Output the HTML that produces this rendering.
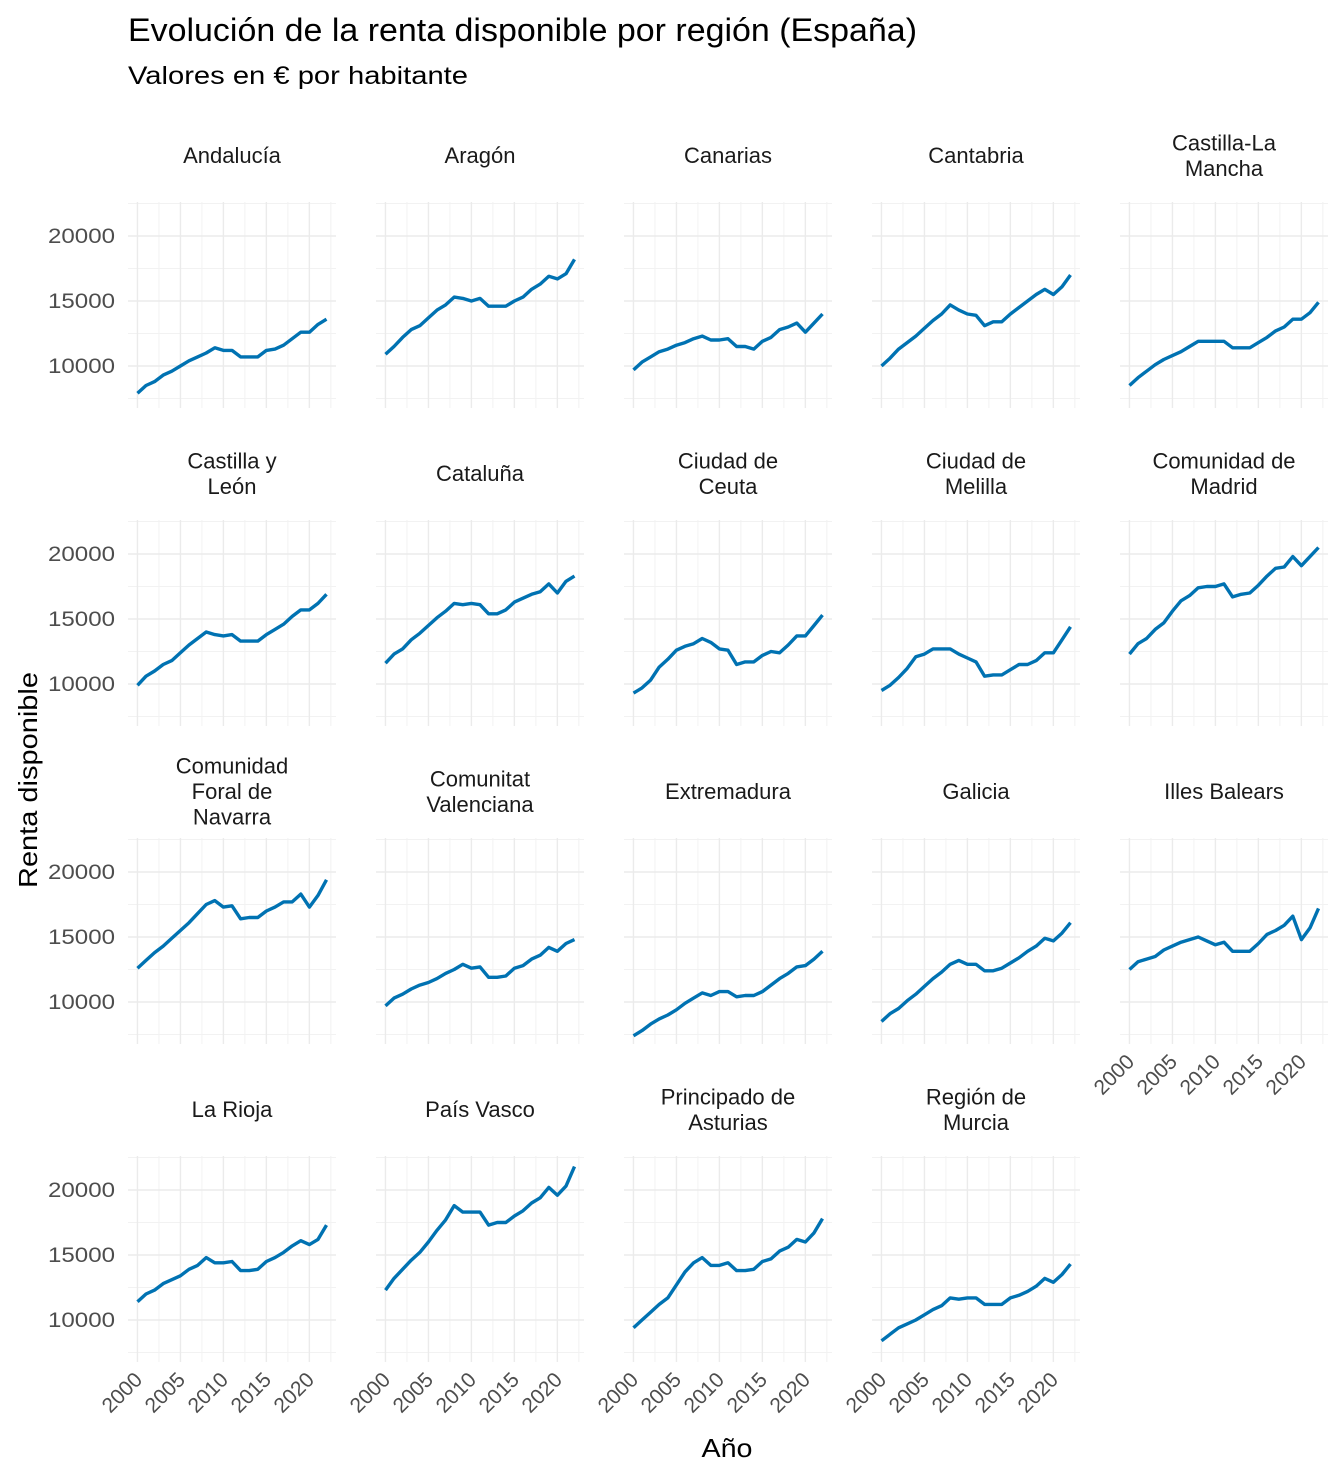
<!DOCTYPE html>
<html><head><meta charset="utf-8"><style>
body{margin:0;background:#fff;}
svg{display:block;font-family:"Liberation Sans",Arial,sans-serif;}
</style></head><body>
<svg id="chart" width="1344" height="1478" viewBox="0 0 1344 1478">
<text x="128" y="41" font-size="32" textLength="789" lengthAdjust="spacingAndGlyphs" fill="#000">Evolución de la renta disponible por región (España)</text>
<text x="128" y="84" font-size="25" textLength="340" lengthAdjust="spacingAndGlyphs" fill="#000">Valores en € por habitante</text>
<text transform="translate(37,780) rotate(-90)" text-anchor="middle" font-size="26" textLength="216" lengthAdjust="spacingAndGlyphs" fill="#000">Renta disponible</text>
<text x="727" y="1457" text-anchor="middle" font-size="26" textLength="51" lengthAdjust="spacingAndGlyphs" fill="#000">Año</text>
<g id="panels"></g>
</svg>
<script>
const years=[];for(let y=2000;y<=2022;y++)years.push(y);
const regions=[["Andalucía"],["Aragón"],["Canarias"],["Cantabria"],["Castilla-La","Mancha"],
["Castilla y","León"],["Cataluña"],["Ciudad de","Ceuta"],["Ciudad de","Melilla"],["Comunidad de","Madrid"],
["Comunidad","Foral de","Navarra"],["Comunitat","Valenciana"],["Extremadura"],["Galicia"],["Illes Balears"],
["La Rioja"],["País Vasco"],["Principado de","Asturias"],["Región de","Murcia"]];
const andalucia=[7900,8500,8800,9300,9600,10000,10400,10700,11000,11400,11200,11200,10700,10700,10700,11200,11300,11600,12100,12600,12600,13200,13600];
const aragon=[10900,11500,12200,12800,13100,13700,14300,14700,15300,15200,15000,15200,14600,14600,14600,15000,15300,15900,16300,16900,16700,17100,18200];
const canarias=[9700,10300,10700,11100,11300,11600,11800,12100,12300,12000,12000,12100,11500,11500,11300,11900,12200,12800,13000,13300,12600,13300,14000];
const cantabria=[10000,10600,11300,11800,12300,12900,13500,14000,14700,14300,14000,13900,13100,13400,13400,14000,14500,15000,15500,15900,15500,16100,17000];
const clm=[8500,9100,9600,10100,10500,10800,11100,11500,11900,11900,11900,11900,11400,11400,11400,11800,12200,12700,13000,13600,13600,14100,14900];
const cyl=[9900,10600,11000,11500,11800,12400,13000,13500,14000,13800,13700,13800,13300,13300,13300,13800,14200,14600,15200,15700,15700,16200,16900];
const cataluna=[11600,12300,12700,13400,13900,14500,15100,15600,16200,16100,16200,16100,15400,15400,15700,16300,16600,16900,17100,17700,17000,17900,18300];
const ceuta=[9300,9700,10300,11300,11900,12600,12900,13100,13500,13200,12700,12600,11500,11700,11700,12200,12500,12400,13000,13700,13700,14500,15300];
const melilla=[9500,9900,10500,11200,12100,12300,12700,12700,12700,12300,12000,11700,10600,10700,10700,11100,11500,11500,11800,12400,12400,13400,14400];
const madrid=[12300,13100,13500,14200,14700,15600,16400,16800,17400,17500,17500,17700,16700,16900,17000,17600,18300,18900,19000,19800,19100,19800,20500];
const navarra=[12600,13200,13800,14300,14900,15500,16100,16800,17500,17800,17300,17400,16400,16500,16500,17000,17300,17700,17700,18300,17300,18200,19400];
const valenciana=[9700,10300,10600,11000,11300,11500,11800,12200,12500,12900,12600,12700,11900,11900,12000,12600,12800,13300,13600,14200,13900,14500,14800];
const extremadura=[7400,7800,8300,8700,9000,9400,9900,10300,10700,10500,10800,10800,10400,10500,10500,10800,11300,11800,12200,12700,12800,13300,13900];
const galicia=[8500,9100,9500,10100,10600,11200,11800,12300,12900,13200,12900,12900,12400,12400,12600,13000,13400,13900,14300,14900,14700,15300,16100];
const baleares=[12500,13100,13300,13500,14000,14300,14600,14800,15000,14700,14400,14600,13900,13900,13900,14500,15200,15500,15900,16600,14800,15700,17200];
const rioja=[11400,12000,12300,12800,13100,13400,13900,14200,14800,14400,14400,14500,13800,13800,13900,14500,14800,15200,15700,16100,15800,16200,17300];
const paisvasco=[12300,13200,13900,14600,15200,16000,16900,17700,18800,18300,18300,18300,17300,17500,17500,18000,18400,19000,19400,20200,19600,20300,21800];
const asturias=[9400,10000,10600,11200,11700,12700,13700,14400,14800,14200,14200,14400,13800,13800,13900,14500,14700,15300,15600,16200,16000,16700,17800];
const murcia=[8400,8900,9400,9700,10000,10400,10800,11100,11700,11600,11700,11700,11200,11200,11200,11700,11900,12200,12600,13200,12900,13500,14300];
const series=[andalucia,aragon,canarias,cantabria,clm,cyl,cataluna,ceuta,melilla,madrid,navarra,valenciana,extremadura,galicia,baleares,rioja,paisvasco,asturias,murcia];
const yTicks=[10000,15000,20000];
const yMinor=[7500,12500,17500,22500];
const xTicks=[2000,2005,2010,2015,2020];
const xMinor=[2002.5,2007.5,2012.5,2017.5,2022.5];

const NS="http://www.w3.org/2000/svg";
const root=document.getElementById('panels');
const PW=208,PH=206,X0=128,Y0=202,DX=248,DY=318;
const xDom=[1998.9,2023.1],yDom=[6770,22615];
function mk(tag,attrs,parent){const e=document.createElementNS(NS,tag);for(const k in attrs)e.setAttribute(k,attrs[k]);parent.appendChild(e);return e;}
series.forEach((vals,i)=>{
  const c=i%5,r=Math.floor(i/5);
  const L=X0+c*DX,T=Y0+r*DY;
  const xs=v=>L+(v-xDom[0])/(xDom[1]-xDom[0])*PW;
  const ys=v=>T+PH-(v-yDom[0])/(yDom[1]-yDom[0])*PH;
  const g=mk('g',{},root);
  
  
  yMinor.forEach(v=>{const y=ys(v);if(y>=T&&y<=T+PH)mk('line',{x1:L,x2:L+PW,y1:y,y2:y,stroke:'#f2f2f2','stroke-width':1},g);});
  xMinor.forEach(v=>{const x=xs(v);if(x<=L+PW)mk('line',{x1:x,x2:x,y1:T,y2:T+PH,stroke:'#f2f2f2','stroke-width':1},g);});
  yTicks.forEach(v=>{const y=ys(v);mk('line',{x1:L,x2:L+PW,y1:y,y2:y,stroke:'#ebebeb','stroke-width':1.4},g);});
  xTicks.forEach(v=>{const x=xs(v);mk('line',{x1:x,x2:x,y1:T,y2:T+PH,stroke:'#ebebeb','stroke-width':1.4},g);});
  const lines=regions[i];const lh=25.5;const cy=T-47;
  lines.forEach((t,k)=>{
    const tx=mk('text',{x:L+PW/2,y:cy+(k-(lines.length-1)/2)*lh+8,'text-anchor':'middle','font-size':22,fill:'#1a1a1a'},g);
    tx.textContent=t;
    
    
  });
  if(c===0){yTicks.forEach(v=>{const t=mk('text',{x:L-13,y:ys(v)+7,'text-anchor':'end','font-size':21,textLength:67,lengthAdjust:'spacingAndGlyphs',fill:'#4d4d4d'},g);t.textContent=v;
    
    });}
  const bottom=(r===3)||(r===2&&c===4);
  if(bottom){xTicks.forEach(v=>{const x=xs(v),y=T+PH+13;const t=mk('text',{x:x+6,y:y+6,'text-anchor':'end','font-size':21,fill:'#4d4d4d',transform:`rotate(-45 ${x+6} ${y+6})`},g);t.textContent=v;
    
    });}
  const d=vals.map((v,k)=>(k?'L':'M')+xs(years[k]).toFixed(1)+','+ys(v).toFixed(1)).join('');
  const p=mk('path',{d:d,fill:'none',stroke:'#0072B2','stroke-width':3.4,'stroke-linejoin':'round'},g);
  
  
});
</script>
</body></html>
